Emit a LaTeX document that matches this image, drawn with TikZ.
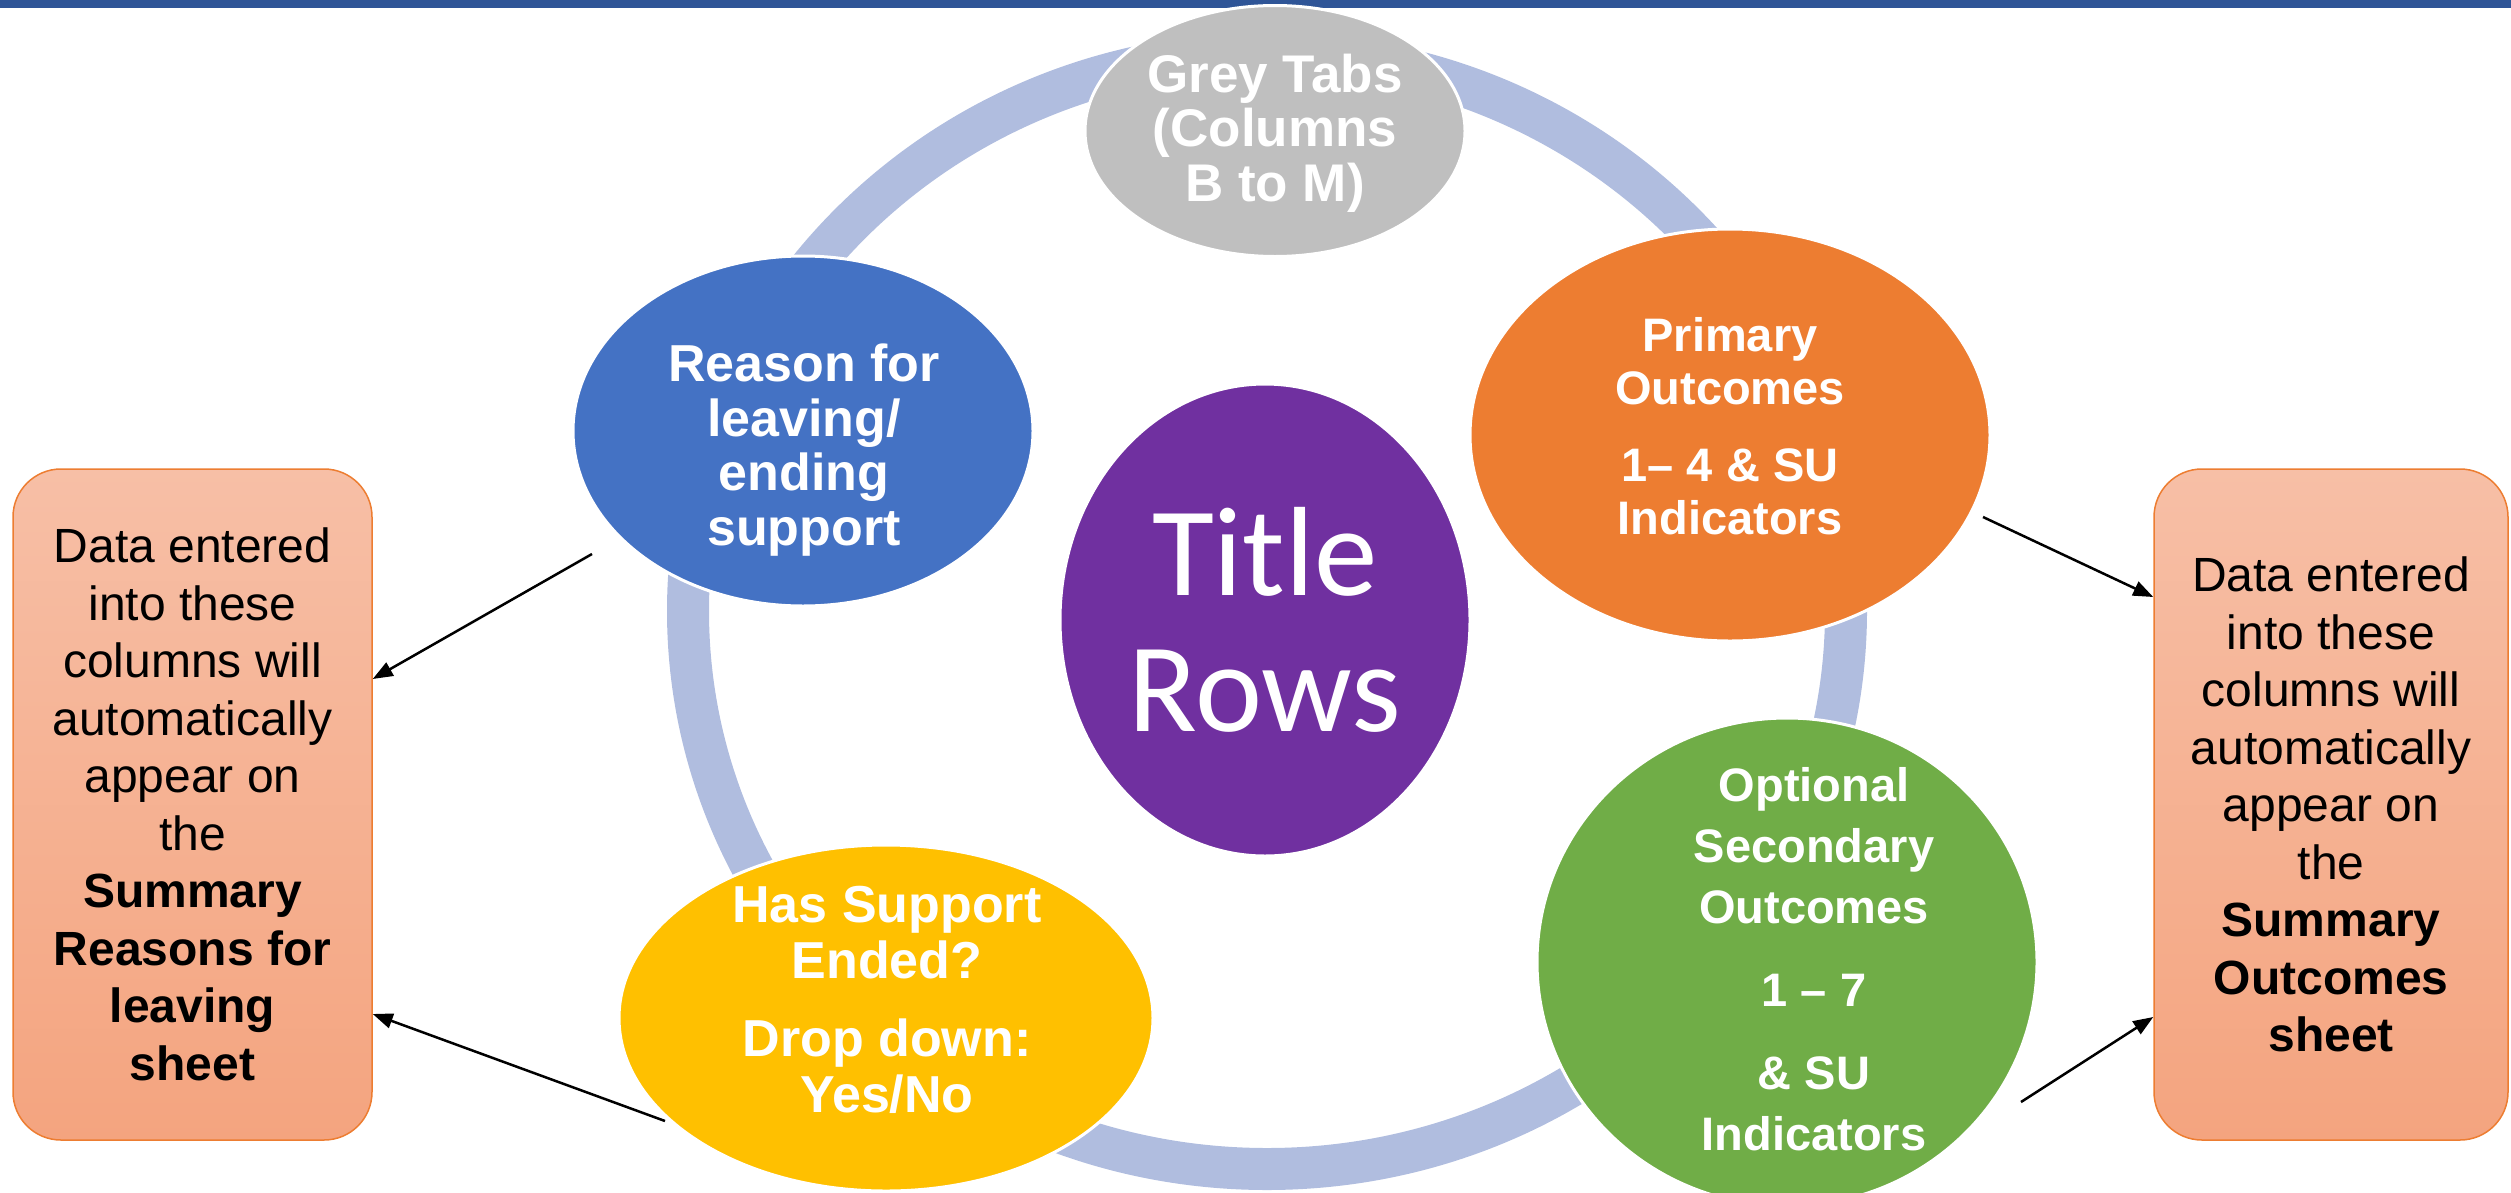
\documentclass[tikz,border=0pt]{standalone}
\usepackage{fontspec}
\setmainfont{Liberation Sans}
\newfontfamily\titlefont{Carlito}
\usetikzlibrary{arrows.meta,shapes.geometric}

\definecolor{barblue}{HTML}{2F5597}
\definecolor{ringblue}{HTML}{B0BDDF}
\definecolor{tabgrey}{HTML}{BFBFBF}
\definecolor{reasonblue}{HTML}{4472C4}
\definecolor{primorange}{HTML}{ED7D31}
\definecolor{titlepurple}{HTML}{7030A0}
\definecolor{endyellow}{HTML}{FFC000}
\definecolor{secgreen}{HTML}{70AD47}
\definecolor{boxtop}{HTML}{F7BFA6}
\definecolor{boxbot}{HTML}{F4A47F}
\definecolor{boxedge}{HTML}{ED7D31}

\begin{document}
\begin{tikzpicture}[x=1pt,y=-1pt,
  bubble/.style={ellipse, draw=white, line width=3pt, inner sep=0pt},
  lbl/.style={text=white, align=center, inner sep=0pt},
  sidebox/.style={rectangle, rounded corners=48pt, draw=boxedge, line width=1.5pt,
    top color=boxtop, bottom color=boxbot, minimum height=671pt, align=center,
    text=black, inner sep=0pt, font=\fontsize{48}{57.5}\selectfont},
  link/.style={-{Triangle[length=20pt,width=15pt]}, line width=2.5pt, black}]
  \useasboundingbox (0,0) rectangle (2511,1192);

  % header rule
  \fill[barblue] (0,0) rectangle (2511,8);

  % cycle ring behind the bubbles
  \draw[ringblue, line width=42pt] (1267,611) ellipse [x radius=579pt, y radius=558pt];

  % bubbles
  \node[bubble, fill=tabgrey, minimum width=380pt, minimum height=251pt] (grey) at (1275,131) {};
  \node[bubble, fill=reasonblue, minimum width=460pt, minimum height=350pt] (reason) at (803,431) {};
  \node[bubble, fill=primorange, minimum width=520pt, minimum height=412pt] (primary) at (1730,435) {};
  \node[bubble, fill=titlepurple, minimum width=410pt, minimum height=472pt] (title) at (1265,620) {};
  \node[bubble, fill=endyellow, minimum width=534pt, minimum height=346pt] (ended) at (886,1018) {};
  \node[bubble, fill=secgreen, minimum width=500pt, minimum height=488pt] (secondary) at (1787,962) {};

  % bubble texts
  \node[lbl, font={\bfseries\fontsize{53}{54.5}\selectfont}] (greytext) at (1275,133)
    {Grey Tabs\\(Columns\\B to M)};
  \node[lbl, font={\bfseries\fontsize{52}{54.5}\selectfont}] (reasontext) at (804,450)
    {Reason for\\leaving/\\ending\\support};
  \node[lbl, font={\bfseries\fontsize{47}{53}\selectfont}] (primarytext) at (1730,426)
    {Primary\\Outcomes\\[24pt]1-- 4 \& SU\\Indicators};
  \node[lbl, font={\titlefont\fontsize{127}{136}\selectfont}] (titletext) at (1265,620)
    {Title\\Rows};
  \node[lbl, font={\bfseries\fontsize{52}{56}\selectfont}] (endedtext) at (887,1000)
    {Has Support\\Ended?\\[22pt]Drop down:\\Yes/No};
  \node[lbl, font={\bfseries\fontsize{47}{61}\selectfont}] (secondarytext) at (1814,959)
    {Optional\\Secondary\\Outcomes\\[22pt]1 -- 7\\[22pt]\& SU\\Indicators};

  % summary boxes
  \node[sidebox, minimum width=359pt] (leftbox) at (192.5,804.5)
    {Data entered\\into these\\columns will\\automatically\\appear on\\the\\
     \textbf{Summary}\\\textbf{Reasons for}\\\textbf{leaving}\\\textbf{sheet}};
  \node[sidebox, minimum width=354pt] (rightbox) at (2331,804.5)
    {Data entered\\into these\\columns will\\automatically\\appear on\\the\\
     \textbf{Summary}\\\textbf{Outcomes}\\\textbf{sheet}};

  % connectors
  \coordinate (reasonout) at (592,554);
  \coordinate (endedout) at (665,1121);
  \coordinate (primaryout) at (1983,517);
  \coordinate (secondaryout) at (2021,1102);
  \draw[link] (reasonout) -- (leftbox.east |- 0,679);
  \draw[link] (endedout) -- (leftbox.east |- 0,1014);
  \draw[link] (primaryout) -- (rightbox.west |- 0,597);
  \draw[link] (secondaryout) -- (rightbox.west |- 0,1017);
\end{tikzpicture}
\end{document}
